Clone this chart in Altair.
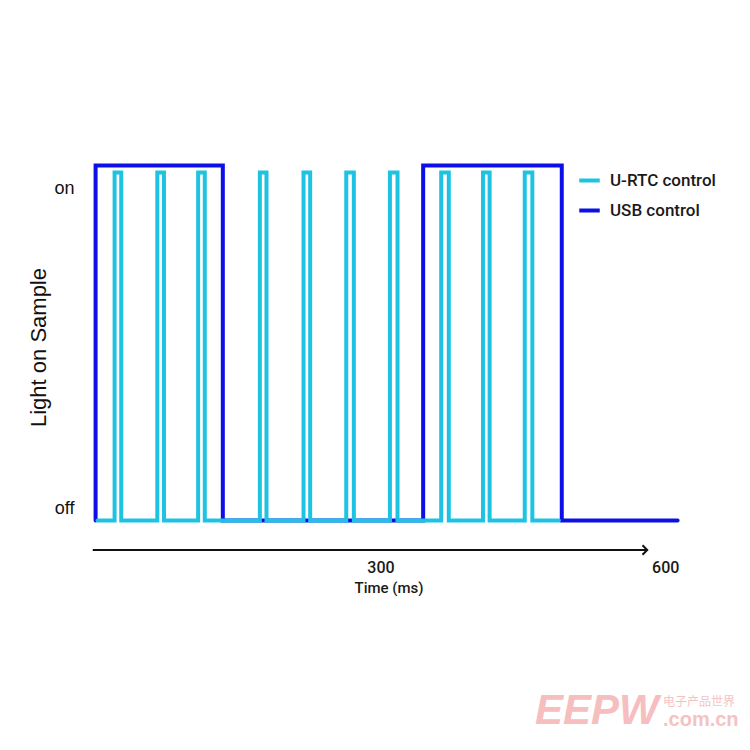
import altair as alt
import pandas as pd

# ---------------- data ----------------
series_names = ["U-RTC control", "USB control"]
series_colors = ["#1ec3e4", "#0c10e6"]

# USB control: step transitions (time in ms, level 0 = off, 1 = on)
usb_t = [0, 0, 134, 345, 491, 613]
usb_level = [0, 1, 0, 1, 0, 0]

# U-RTC control: pulse rise / fall times (ms)
rtc_rise = [20, 65, 108, 173, 219, 264, 310, 364, 408, 452]
rtc_fall = [27, 72, 115, 180, 226, 272, 318, 372, 415, 460]
rtc_start = 2
rtc_end = 488
rtc_high = 0.98

# axis ticks / labels
x_tick_values = [300, 600]
y_tick_values = [0.021, 0.9225]
y_tick_labels = ["off", "on"]
time_arrow = [-3, 581]
arrow_level = -0.083

# ---------------- build tables ----------------
rows = []
for i, (t, lv) in enumerate(zip(usb_t, usb_level)):
    rows.append({"t": t, "level": lv, "series": series_names[1], "i": i})
rtc_t = [rtc_start]
rtc_lv = [0]
for r, f in zip(rtc_rise, rtc_fall):
    rtc_t += [r, f]
    rtc_lv += [rtc_high, 0]
rtc_t.append(rtc_end)
rtc_lv.append(0)
for i, (t, lv) in enumerate(zip(rtc_t, rtc_lv)):
    rows.append({"t": t, "level": lv, "series": series_names[0], "i": i})
df = pd.DataFrame(rows)

arrow_df = pd.DataFrame({"t": [time_arrow[0]], "t2": [time_arrow[1]], "level": [arrow_level]})
head_df = pd.DataFrame({"t": [time_arrow[1]], "level": [arrow_level]})

xscale = alt.Scale(domain=[-8, 625], nice=False, zero=False)
yscale = alt.Scale(domain=[-0.1, 1.1], nice=False, zero=False)

label_expr = "datum.value > 0.5 ? 'on' : 'off'"

x_axis = alt.Axis(
    values=x_tick_values, title="Time (ms)", grid=False, domain=False, ticks=False,
    labelPadding=3, labelFont="Roboto", labelFontSize=16, labelFontWeight=500,
    labelColor="#1a1a1a", titleFont="Roboto", titleFontSize=15, titleFontWeight=500,
    titleColor="#1a1a1a", titleY=24, titleBaseline="top", labelBaseline="top",
)
y_axis = alt.Axis(
    values=y_tick_values, labelExpr=label_expr, title="Light on Sample", grid=False,
    domain=False, ticks=False, labelPadding=14, labelFont="Liberation Sans",
    labelFontSize=18, labelColor="#111111", labelBaseline="alphabetic",
    titleFont="Liberation Sans", titleFontSize=22, titleFontWeight="normal",
    titleColor="#111111", titleX=-50, titleY=217, titleAngle=270,
    titleAlign="center", titleBaseline="middle",
)

lines = alt.Chart(df).mark_line(
    interpolate="step-after", strokeWidth=4, strokeCap="round", strokeJoin="miter"
).encode(
    x=alt.X("t:Q", scale=xscale, axis=x_axis),
    y=alt.Y("level:Q", scale=yscale, axis=y_axis),
    color=alt.Color(
        "series:N",
        scale=alt.Scale(domain=series_names, range=series_colors),
        legend=alt.Legend(
            title=None, orient="none", legendX=489, legendY=38,
            symbolType="stroke", symbolStrokeWidth=4, symbolSize=420,
            labelFont="Roboto", labelFontSize=17, labelFontWeight=500,
            labelColor="#1a1a1a", rowPadding=9, labelOffset=8, padding=0,
        ),
    ),
    order=alt.Order("i:Q"),
)

arrow = alt.Chart(arrow_df).mark_rule(color="#111111", strokeWidth=2).encode(
    x=alt.X("t:Q", scale=xscale), x2="t2:Q", y=alt.Y("level:Q", scale=yscale)
)
head = alt.Chart(head_df).mark_point(
    shape="M -1 -1 L 0 0 L -1 1", filled=False, stroke="#111111", strokeWidth=2,
    size=90, opacity=1,
).encode(x=alt.X("t:Q", scale=xscale), y=alt.Y("level:Q", scale=yscale))

wm_df = pd.DataFrame({"a": [0]})
wm1 = alt.Chart(wm_df).mark_text(
    text="EEPW", font="Liberation Sans", fontSize=42, fontWeight="bold",
    fontStyle="italic", color="#f3a9a9", opacity=0.75, align="left", baseline="alphabetic",
).encode(x=alt.value(447), y=alt.value(594))
wm2 = alt.Chart(wm_df).mark_text(
    text="电子产品世界", font="Noto Sans CJK SC", fontSize=12, color="#f3b4b4",
    opacity=0.8, align="left", baseline="middle",
).encode(x=alt.value(575), y=alt.value(572))
wm3 = alt.Chart(wm_df).mark_text(
    text=".com.cn", font="Liberation Sans", fontSize=20, fontWeight="bold",
    color="#f3b4b4", opacity=0.8, align="left", baseline="alphabetic",
).encode(x=alt.value(575), y=alt.value(596))

chart = alt.layer(arrow, head, lines, wm1, wm2, wm3).properties(
    width=601, height=426,
    autosize=alt.AutoSizeParams(type="none"),
    padding={"left": 80, "top": 122, "right": 52, "bottom": 178},
    background="white",
).configure_view(stroke=None)

chart.save("out.html", embed_options={"renderer": "svg", "actions": False})
